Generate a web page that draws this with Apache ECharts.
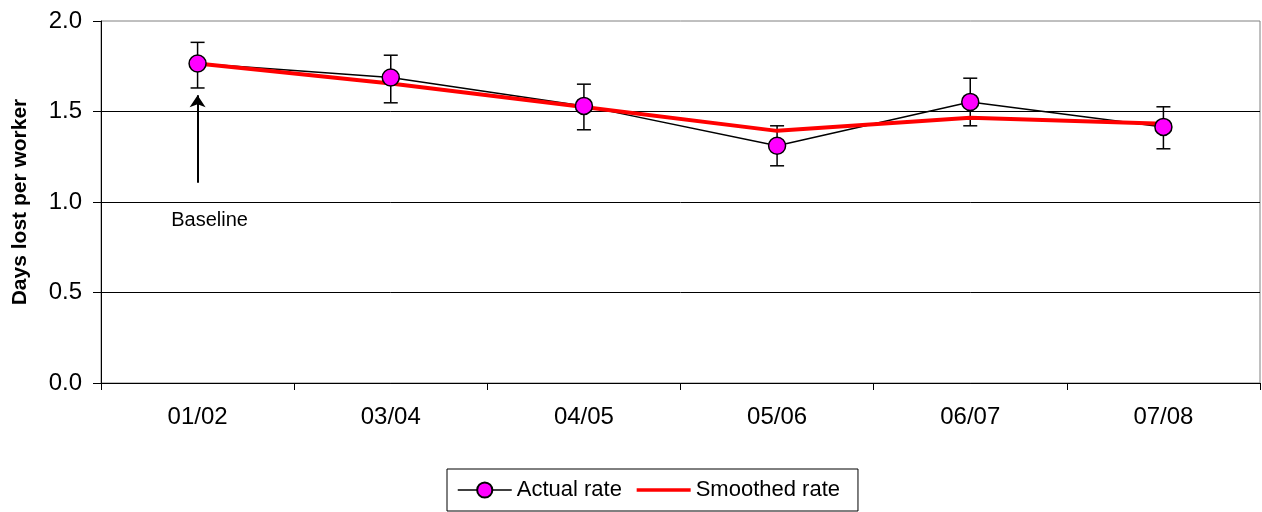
<!DOCTYPE html>
<html>
<head>
<meta charset="utf-8">
<script src="https://cdn.jsdelivr.net/npm/echarts@6/dist/echarts.min.js"></script>
<style>html,body{margin:0;padding:0;background:#fff}#c{width:1262px;height:512px}</style>
</head>
<body>
<div id="c"></div>
<script>
const categories = ['01/02', '03/04', '04/05', '05/06', '06/07', '07/08'];
const actualRate = [1.765, 1.688, 1.531, 1.311, 1.553, 1.415];
const errorLow = [1.630, 1.548, 1.399, 1.200, 1.421, 1.294];
const errorHigh = [1.882, 1.811, 1.651, 1.421, 1.684, 1.526];
const smoothedRate = [1.765, 1.655, 1.525, 1.393, 1.465, 1.432];
const yTicks = [0, 0.5, 1.0, 1.5, 2.0];
const arrowFrom = 1.106, arrowTo = 1.59, baselineAt = 0.90;

const FONT = 'Liberation Sans';
const chart = echarts.init(document.getElementById('c'));
const errData = categories.map((c, i) => [i, errorLow[i], errorHigh[i]]);

chart.setOption({
  animation: false,
  textStyle: { fontFamily: FONT, color: '#000' },
  grid: { left: 101, right: 2, top: 21, bottom: 129, show: true, borderColor: '#808080', borderWidth: 1, backgroundColor: 'transparent' },
  legend: {
    data: [
      { name: 'Actual rate', lineStyle: { width: 1.5 } },
      { name: 'Smoothed rate', lineStyle: { width: 3.5 } }
    ],
    left: 447, top: 469,
    borderColor: '#000', borderWidth: 1,
    padding: [10, 18, 10, 10],
    itemWidth: 54, itemHeight: 19, itemGap: 13,
    textStyle: { fontFamily: FONT, fontSize: 22, color: '#000' }
  },
  xAxis: {
    type: 'category', data: categories,
    axisLine: { lineStyle: { color: '#000', width: 1 } },
    axisTick: { show: true, length: 7, lineStyle: { color: '#000' } },
    axisLabel: { fontFamily: FONT, fontSize: 24, color: '#000', margin: 22 },
    splitLine: { show: false }
  },
  yAxis: {
    type: 'value', min: yTicks[0], max: yTicks[yTicks.length - 1], interval: 0.5,
    name: 'Days lost per worker', nameLocation: 'middle', nameGap: 70, nameRotate: 90,
    nameTextStyle: { fontFamily: FONT, fontSize: 21, fontWeight: 'bold', color: '#000' },
    axisLine: { show: true, lineStyle: { color: '#000', width: 1 } },
    axisTick: { show: true, length: 8, lineStyle: { color: '#000' } },
    axisLabel: { fontFamily: FONT, fontSize: 24, color: '#000', margin: 19, formatter: v => v.toFixed(1) },
    splitLine: { show: true, showMaxLine: false, lineStyle: { color: '#000', width: 1 } }
  },
  series: [
    {
      type: 'custom', name: 'err', z: 1, silent: true,
      data: errData,
      renderItem: function (params, api) {
        const x = api.value(0);
        const lo = api.coord([x, api.value(1)]);
        const hi = api.coord([x, api.value(2)]);
        const hw = 7;
        const st = { stroke: '#000', lineWidth: 1.5 };
        return { type: 'group', children: [
          { type: 'line', shape: { x1: lo[0], y1: lo[1], x2: hi[0], y2: hi[1] }, style: st },
          { type: 'line', shape: { x1: lo[0] - hw, y1: lo[1], x2: lo[0] + hw, y2: lo[1] }, style: st },
          { type: 'line', shape: { x1: hi[0] - hw, y1: hi[1], x2: hi[0] + hw, y2: hi[1] }, style: st }
        ]};
      }
    },
    {
      type: 'line', name: 'Actual rate', z: 2, data: actualRate,
      symbol: 'circle', symbolSize: 17, showSymbol: false,
      lineStyle: { color: '#000', width: 1.5 },
      itemStyle: { color: '#ff00ff', borderColor: '#000', borderWidth: 1.5 },
      emphasis: { disabled: true }
    },
    {
      type: 'line', name: 'Smoothed rate', z: 3, data: smoothedRate,
      symbol: 'none',
      lineStyle: { color: '#ff0000', width: 4 },
      itemStyle: { color: 'rgba(0,0,0,0)', borderWidth: 0 },
      emphasis: { disabled: true },
      markLine: {
        silent: true, animation: false,
        symbol: ['none', 'arrow'], symbolSize: 12,
        lineStyle: { color: '#000', width: 2, type: 'solid' },
        itemStyle: { color: '#000' },
        label: { show: false },
        data: [[{ coord: [0, arrowFrom] }, { coord: [0, arrowTo] }]]
      },
      markPoint: {
        silent: true, animation: false,
        symbol: 'circle', symbolSize: 0,
        label: { show: true, position: 'inside', offset: [12, 0], formatter: 'Baseline', fontFamily: FONT, fontSize: 20, color: '#000' },
        data: [{ coord: [0, baselineAt] }]
      }
    },
    {
      type: 'scatter', name: 'markers', z: 4, data: actualRate,
      symbol: 'circle', symbolSize: 17,
      itemStyle: { color: '#ff00ff', borderColor: '#000', borderWidth: 1.5, opacity: 1 },
      emphasis: { disabled: true }
    }
  ]
});
</script>
</body>
</html>
